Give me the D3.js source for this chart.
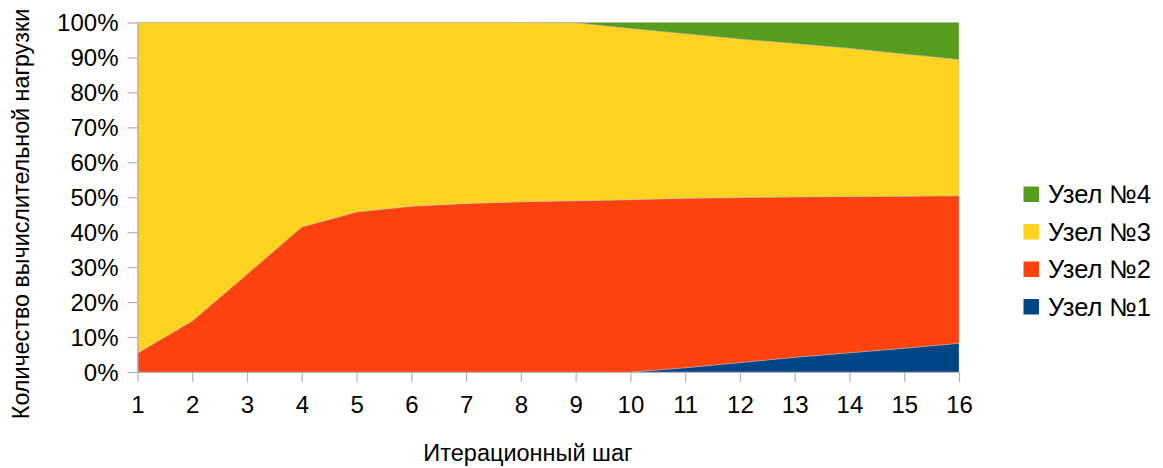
<!DOCTYPE html>
<html>
<head>
<meta charset="utf-8">
<script src="https://cdn.jsdelivr.net/npm/d3@7"></script>
<style>
  body { margin: 0; background: #fff; }
  text { font-family: "Liberation Sans", Arial, sans-serif; fill: #000; }
</style>
</head>
<body>
<div id="chart"></div>
<script>
// шаги итерации
var steps = [1, 2, 3, 4, 5, 6, 7, 8, 9, 10, 11, 12, 13, 14, 15, 16];

// доли нагрузки по узлам, %
var node1 = [0, 0, 0, 0, 0, 0, 0, 0, 0, 0, 1.2, 2.7, 4.2, 5.5, 6.8, 8.2];
var node2 = [5.4, 14.6, 28, 41.5, 45.8, 47.4, 48.2, 48.7, 49.0, 49.3, 48.5, 47.2, 45.9, 44.7, 43.5, 42.2];
var node3 = [94.6, 85.4, 72, 58.5, 54.2, 52.6, 51.8, 51.3, 50.9, 49.0, 47.1, 45.4, 43.9, 42.4, 40.7, 39.0];
var node4 = [0, 0, 0, 0, 0, 0, 0, 0, 0.1, 1.7, 3.2, 4.7, 6.0, 7.4, 9.0, 10.6];

var seriesNames = ["Узел №1", "Узел №2", "Узел №3", "Узел №4"];
var seriesColors = ["#004586", "#ff420e", "#ffd320", "#579d1c"];
var yTicks = [0, 0.1, 0.2, 0.3, 0.4, 0.5, 0.6, 0.7, 0.8, 0.9, 1];

var xTitle = "Итерационный шаг";
var yTitle = "Количество вычислительной нагрузки";

var width = 1163, height = 468;
var margin = {left: 137.5, right: 204, top: 22.5, bottom: 96};

var svg = d3.select("#chart")
  .append("svg")
  .attr("width", width)
  .attr("height", height);

// таблица для stack
var table = steps.map(function(s, i) {
  return {step: s, n1: node1[i], n2: node2[i], n3: node3[i], n4: node4[i]};
});
var keys = ["n1", "n2", "n3", "n4"];
var stacked = d3.stack().keys(keys).offset(d3.stackOffsetExpand)(table);

var x = d3.scaleLinear()
  .domain([1, 16])
  .range([margin.left, width - margin.right]);
var y = d3.scaleLinear()
  .domain([0, 1])
  .range([height - margin.bottom, margin.top]);

var area = d3.area()
  .x(function(d) { return x(d.data.step); })
  .y0(function(d) { return y(d[0]); })
  .y1(function(d) { return y(d[1]); });

//области
svg.append("g")
  .selectAll("path")
  .data(stacked)
  .enter()
  .append("path")
  .attr("d", area)
  .attr("fill", function(d, i) { return seriesColors[i]; })
  .attr("stroke", "#b3b3b3")
  .attr("stroke-opacity", 0.6)
  .attr("stroke-width", 0.8);

//оси
var xAxis = svg.append("g")
  .attr("transform", "translate(0," + (height - margin.bottom) + ")")
  .call(d3.axisBottom(x).tickValues(steps).tickFormat(d3.format("d")).tickSizeInner(10).tickSizeOuter(0).tickPadding(14));
var yAxis = svg.append("g")
  .attr("transform", "translate(" + margin.left + ",0)")
  .call(d3.axisLeft(y).tickValues(yTicks).tickFormat(d3.format(".0%")).tickSizeInner(10).tickSizeOuter(0).tickPadding(9));

[xAxis, yAxis].forEach(function(ax) {
  ax.select(".domain").attr("stroke", "#b3b3b3").attr("stroke-width", 1.2);
  ax.selectAll(".tick line").attr("stroke", "#b3b3b3").attr("stroke-width", 1.2);
  ax.selectAll(".tick text")
    .attr("font-family", "Liberation Sans, Arial, sans-serif")
    .attr("font-size", "24px")
    .attr("fill", "#000");
});
yAxis.selectAll(".tick text").attr("dy", "0.35em");

//подписи осей
svg.append("text")
  .attr("x", 528)
  .attr("y", 461)
  .attr("text-anchor", "middle")
  .attr("font-size", "23.5px")
  .text(xTitle);

svg.append("text")
  .attr("transform", "translate(29," + 214 + ") rotate(-90)")
  .attr("text-anchor", "middle")
  .attr("font-size", "23.3px")
  .text(yTitle);

//легенда
var legend = svg.append("g");
var order = [3, 2, 1, 0];
order.forEach(function(k, i) {
  var ly = 194.5 + i * 37.5;
  legend.append("rect")
    .attr("x", 1023.5)
    .attr("y", ly - 8)
    .attr("width", 15.5)
    .attr("height", 15.5)
    .attr("fill", seriesColors[k]);
  legend.append("text")
    .attr("x", 1048)
    .attr("y", ly)
    .attr("dy", "0.35em")
    .attr("font-size", "25.5px")
    .text(seriesNames[k]);
});
</script>
</body>
</html>
